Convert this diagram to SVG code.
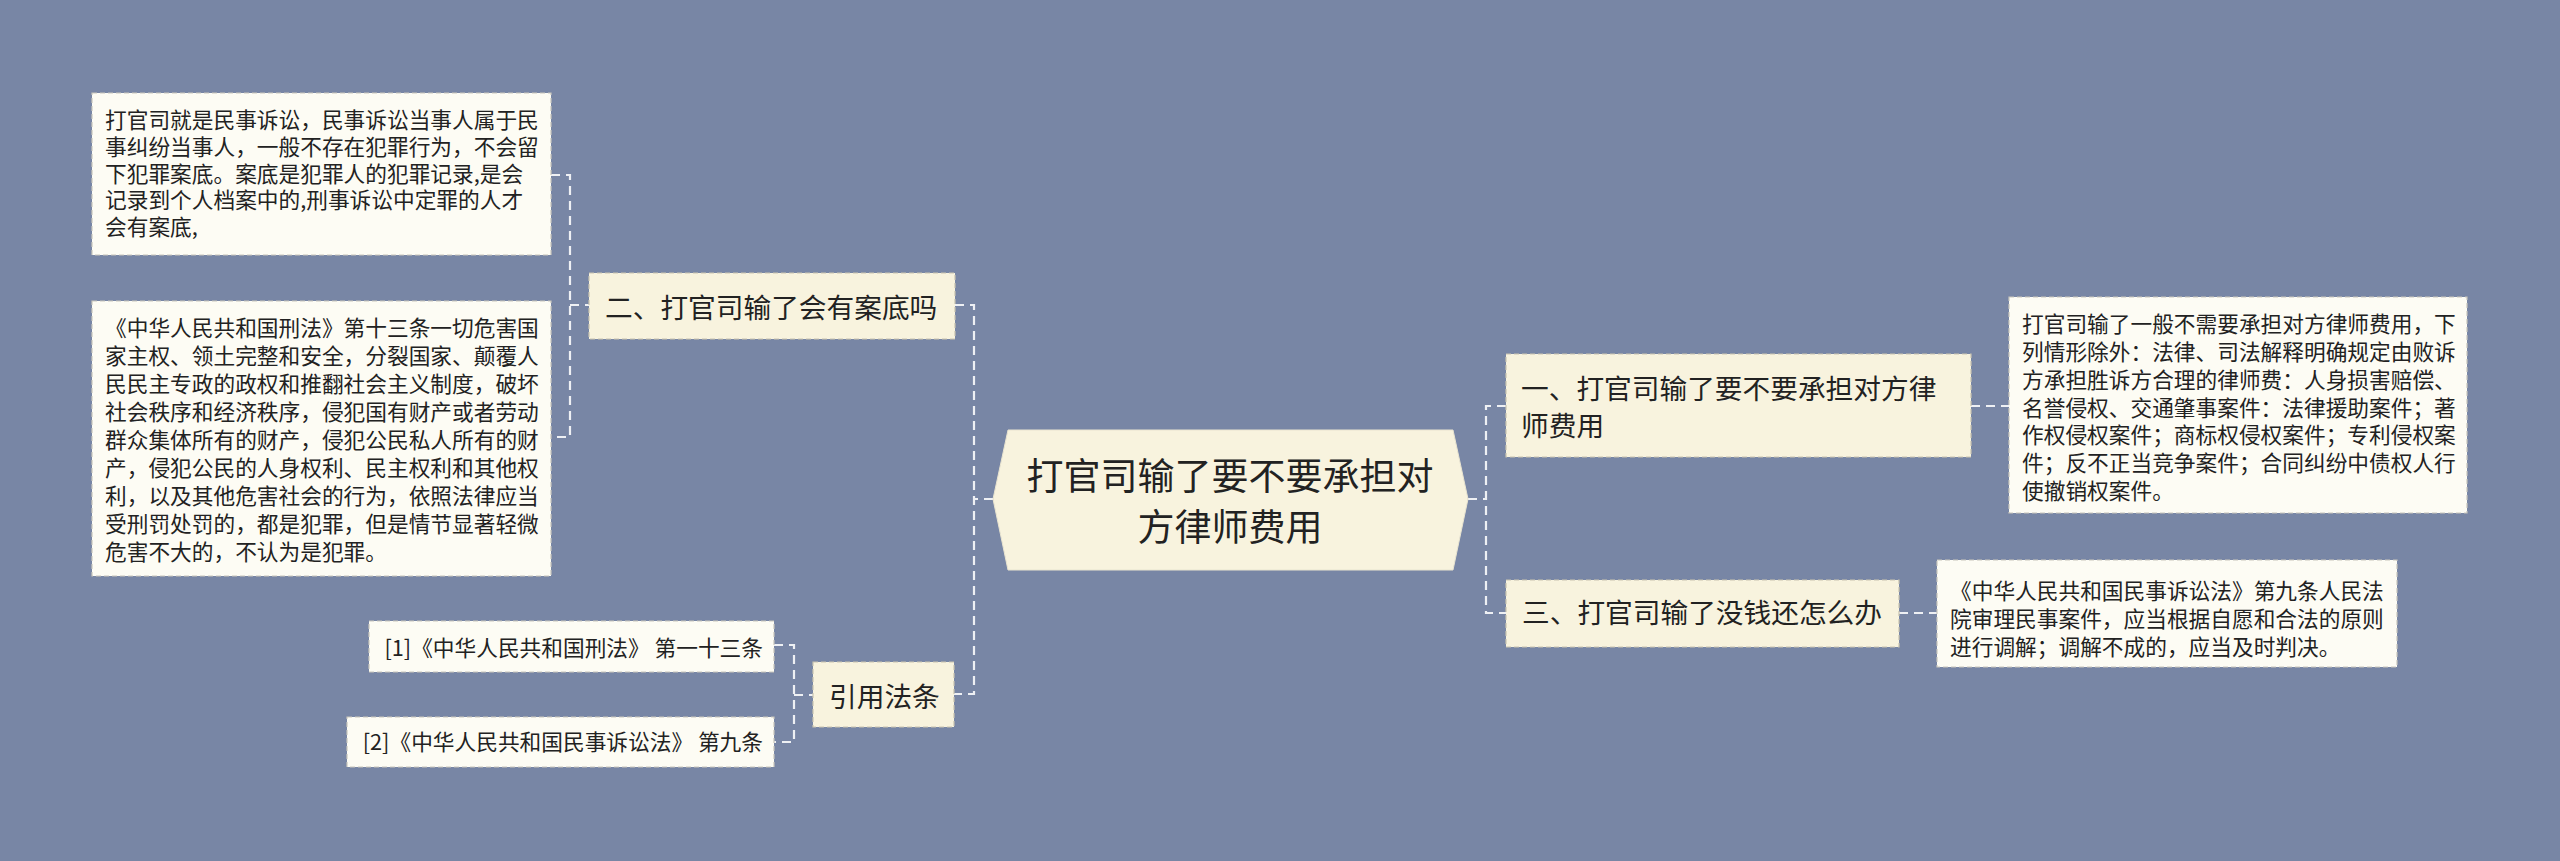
<svg xmlns="http://www.w3.org/2000/svg" width="2560" height="861" viewBox="0 0 2560 861">
<style>
.bg{fill:#7886a5}
.t{font-family:"Noto Sans CJK SC","Noto Sans",sans-serif;fill:#222}
.s{font-size:21.7px}
.m{font-size:27.7px}
.c{font-size:37px}
.leaf{fill:#fdfcf4;stroke:#c9c6bc;stroke-width:1.2;stroke-dasharray:5 3}
.l1{fill:#f8f3de;stroke:#c9c4b0;stroke-width:1.2;stroke-dasharray:5 3}
.root{fill:#f8f3de;stroke:#e9e4d0;stroke-width:1}
.con{fill:none;stroke:#eef0f4;stroke-width:2.2;stroke-dasharray:9 6}
</style>
<rect class="bg" x="0" y="0" width="2560" height="861"/>
<g id="connectors">
<path class="con" d="M993,499 H974"/>
<path class="con" d="M955,305 H974 V694 H954"/>
<path class="con" d="M551,175 H570 V437 H551"/>
<path class="con" d="M570,305 H589"/>
<path class="con" d="M774,645 H794 V742 H774"/>
<path class="con" d="M794,695 H813"/>
<path class="con" d="M1468,499 H1486"/>
<path class="con" d="M1506,406 H1486 V613 H1506"/>
<path class="con" d="M1971,406 H2009"/>
<path class="con" d="M1899,613 H1937"/>
</g>
<g id="root">
<polygon class="root" points="993,499 1008,430 1453,430 1468,499 1453,570 1008,570"/>
<text class="t c" x="1230" y="490" text-anchor="middle">打官司输了要不要承担对</text>
<text class="t c" x="1230" y="541" text-anchor="middle">方律师费用</text>
</g>
<g id="n2">
<rect class="l1" x="589" y="273" width="366" height="66"/>
<text class="t m" x="605" y="317.5">二、打官司输了会有案底吗</text>
</g>
<g id="leaf1">
<rect class="leaf" x="92" y="93" width="459" height="162"/>
<text class="t s" x="105" y="128.2">打官司就是民事诉讼，民事诉讼当事人属于民</text>
<text class="t s" x="105" y="154.9">事纠纷当事人，一般不存在犯罪行为，不会留</text>
<text class="t s" x="105" y="181.6">下犯罪案底。案底是犯罪人的犯罪记录,是会</text>
<text class="t s" x="105" y="208.3">记录到个人档案中的,刑事诉讼中定罪的人才</text>
<text class="t s" x="105" y="235">会有案底,</text>
</g>
<g id="leaf2">
<rect class="leaf" x="92" y="301" width="459" height="275"/>
<text class="t s" x="105" y="335.7">《中华人民共和国刑法》第十三条一切危害国</text>
<text class="t s" x="105" y="363.7">家主权、领土完整和安全，分裂国家、颠覆人</text>
<text class="t s" x="105" y="391.7">民民主专政的政权和推翻社会主义制度，破坏</text>
<text class="t s" x="105" y="419.7">社会秩序和经济秩序，侵犯国有财产或者劳动</text>
<text class="t s" x="105" y="447.7">群众集体所有的财产，侵犯公民私人所有的财</text>
<text class="t s" x="105" y="475.7">产，侵犯公民的人身权利、民主权利和其他权</text>
<text class="t s" x="105" y="503.7">利，以及其他危害社会的行为，依照法律应当</text>
<text class="t s" x="105" y="531.7">受刑罚处罚的，都是犯罪，但是情节显著轻微</text>
<text class="t s" x="105" y="559.7">危害不大的，不认为是犯罪。</text>
</g>
<g id="n4">
<rect class="l1" x="813" y="662" width="141" height="65"/>
<text class="t m" x="829" y="706.5">引用法条</text>
</g>
<g id="ref1">
<rect class="leaf" x="369" y="621" width="405" height="51"/>
<text class="t s" x="763" y="655.7" text-anchor="end">[1]《中华人民共和国刑法》 第一十三条</text>
</g>
<g id="ref2">
<rect class="leaf" x="347" y="717" width="427" height="50"/>
<text class="t s" x="763" y="750.2" text-anchor="end">[2]《中华人民共和国民事诉讼法》 第九条</text>
</g>
<g id="n1">
<rect class="l1" x="1506" y="354" width="465" height="103"/>
<text class="t m" x="1521" y="398.5">一、打官司输了要不要承担对方律</text>
<text class="t m" x="1521" y="435.5">师费用</text>
</g>
<g id="leaf3">
<rect class="leaf" x="2009" y="297" width="458" height="216"/>
<text class="t s" x="2022" y="332.2">打官司输了一般不需要承担对方律师费用，下</text>
<text class="t s" x="2022" y="360">列情形除外：法律、司法解释明确规定由败诉</text>
<text class="t s" x="2022" y="387.8">方承担胜诉方合理的律师费：人身损害赔偿、</text>
<text class="t s" x="2022" y="415.6">名誉侵权、交通肇事案件：法律援助案件；著</text>
<text class="t s" x="2022" y="443.4">作权侵权案件；商标权侵权案件；专利侵权案</text>
<text class="t s" x="2022" y="471.2">件；反不正当竞争案件；合同纠纷中债权人行</text>
<text class="t s" x="2022" y="499">使撤销权案件。</text>
</g>
<g id="n3">
<rect class="l1" x="1506" y="580" width="393" height="67"/>
<text class="t m" x="1522" y="622.5">三、打官司输了没钱还怎么办</text>
</g>
<g id="leaf4">
<rect class="leaf" x="1937" y="560" width="460" height="107"/>
<text class="t s" x="1950" y="599.2">《中华人民共和国民事诉讼法》第九条人民法</text>
<text class="t s" x="1950" y="627.2">院审理民事案件，应当根据自愿和合法的原则</text>
<text class="t s" x="1950" y="655.2">进行调解；调解不成的，应当及时判决。</text>
</g>
</svg>
